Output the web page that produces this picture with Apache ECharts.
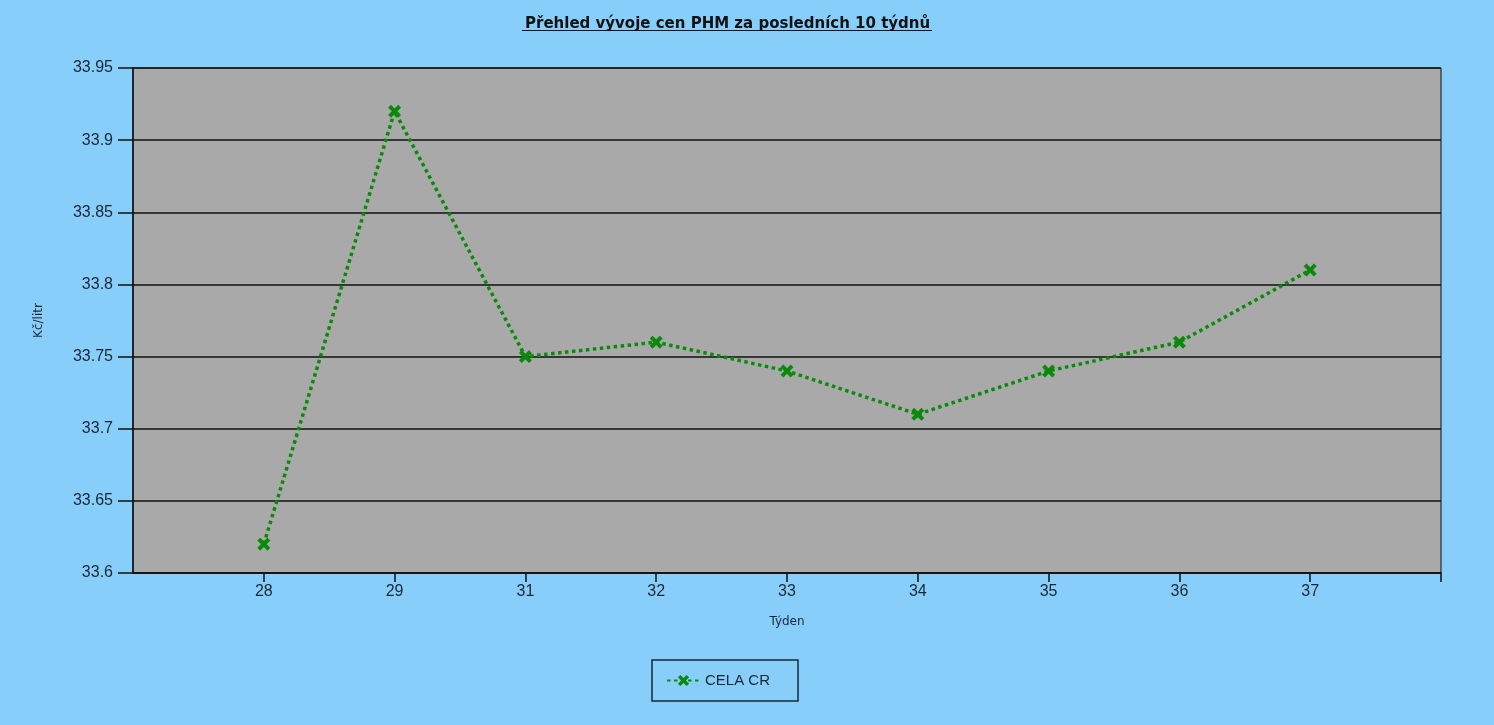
<!DOCTYPE html>
<html>
<head>
<meta charset="utf-8">
<script src="https://cdn.jsdelivr.net/npm/echarts@6/dist/echarts.min.js"></script>
<style>
html,body{margin:0;padding:0;background:#87CEFA;}
#chart{width:1494px;height:725px;}
</style>
</head>
<body>
<div id="chart"></div>
<script>
const titleText = 'Přehled vývoje cen PHM za posledních 10 týdnů';
const xAxisName = 'Týden';
const yAxisName = 'Kč/litr';
const seriesName = 'CELA CR';
// weeks (empty slots at both ends of the axis)
const weeks = ['', '28', '29', '31', '32', '33', '34', '35', '36', '37', ''];
const prices = [null, 33.62, 33.92, 33.75, 33.76, 33.74, 33.71, 33.74, 33.76, 33.81, null];
const yMin = 33.6, yMax = 33.95, yStep = 0.05;

const textColor = '#1b2735';
const font = 'DejaVu Sans';
const labelFont = 'Liberation Sans';
const green = '#0a8a0a';
const crossPath = 'path://M0,2.2 L2.2,0 L5,2.8 L7.8,0 L10,2.2 L7.2,5 L10,7.8 L7.8,10 L5,7.2 L2.2,10 L0,7.8 L2.8,5 Z';

const chart = echarts.init(document.getElementById('chart'));
chart.setOption({
  backgroundColor: '#87CEFA',
  animation: false,
  title: {
    text: titleText,
    left: 520,
    top: 12,
    textStyle: {fontFamily: font, fontSize: 15, fontWeight: 'bold', color: '#111'}
  },
  graphic: [{
    type: 'line',
    shape: {x1: 522, y1: 30.5, x2: 932, y2: 30.5},
    style: {stroke: '#111', lineWidth: 1.2}
  }],
  grid: {
    left: 133, right: 53, top: 68, bottom: 152,
    show: true, backgroundColor: '#A9A9A9', borderColor: '#111', borderWidth: 1
  },
  legend: {
    left: 652, top: 660,
    padding: [13, 28, 13, 14],
    borderColor: '#1b2735', borderWidth: 1.5,
    itemWidth: 33, itemHeight: 14,
    textStyle: {fontFamily: labelFont, fontSize: 15, color: textColor},
    data: [seriesName]
  },
  xAxis: {
    type: 'category',
    data: weeks,
    boundaryGap: false,
    name: xAxisName,
    nameLocation: 'middle',
    nameGap: 43,
    nameTextStyle: {fontFamily: font, fontSize: 12, color: textColor},
    axisLine: {lineStyle: {color: '#111', width: 1.5}},
    axisTick: {length: 9, lineStyle: {color: '#111', width: 1.5}, interval: function (i) { return i > 0; }},
    axisLabel: {fontFamily: labelFont, fontSize: 16, color: textColor, margin: 11, interval: 0},
    splitLine: {show: false}
  },
  yAxis: {
    type: 'value',
    min: yMin, max: yMax, interval: yStep,
    name: yAxisName,
    nameLocation: 'middle',
    nameGap: 88,
    nameRotate: 90,
    nameTextStyle: {fontFamily: font, fontSize: 12, color: textColor},
    axisLine: {show: true, lineStyle: {color: '#111', width: 1.5}},
    axisTick: {show: true, length: 15, lineStyle: {color: '#111', width: 1.5}},
    axisLabel: {fontFamily: labelFont, fontSize: 16, color: textColor, margin: 20},
    splitLine: {show: true, lineStyle: {color: '#111', width: 1.5}}
  },
  series: [{
    name: seriesName,
    type: 'line',
    data: prices,
    connectNulls: false,
    symbol: crossPath,
    symbolSize: 13,
    showAllSymbol: true,
    itemStyle: {color: green},
    lineStyle: {color: green, width: 3.5, type: [3.5, 3.5]}
  }]
});
</script>
</body>
</html>
